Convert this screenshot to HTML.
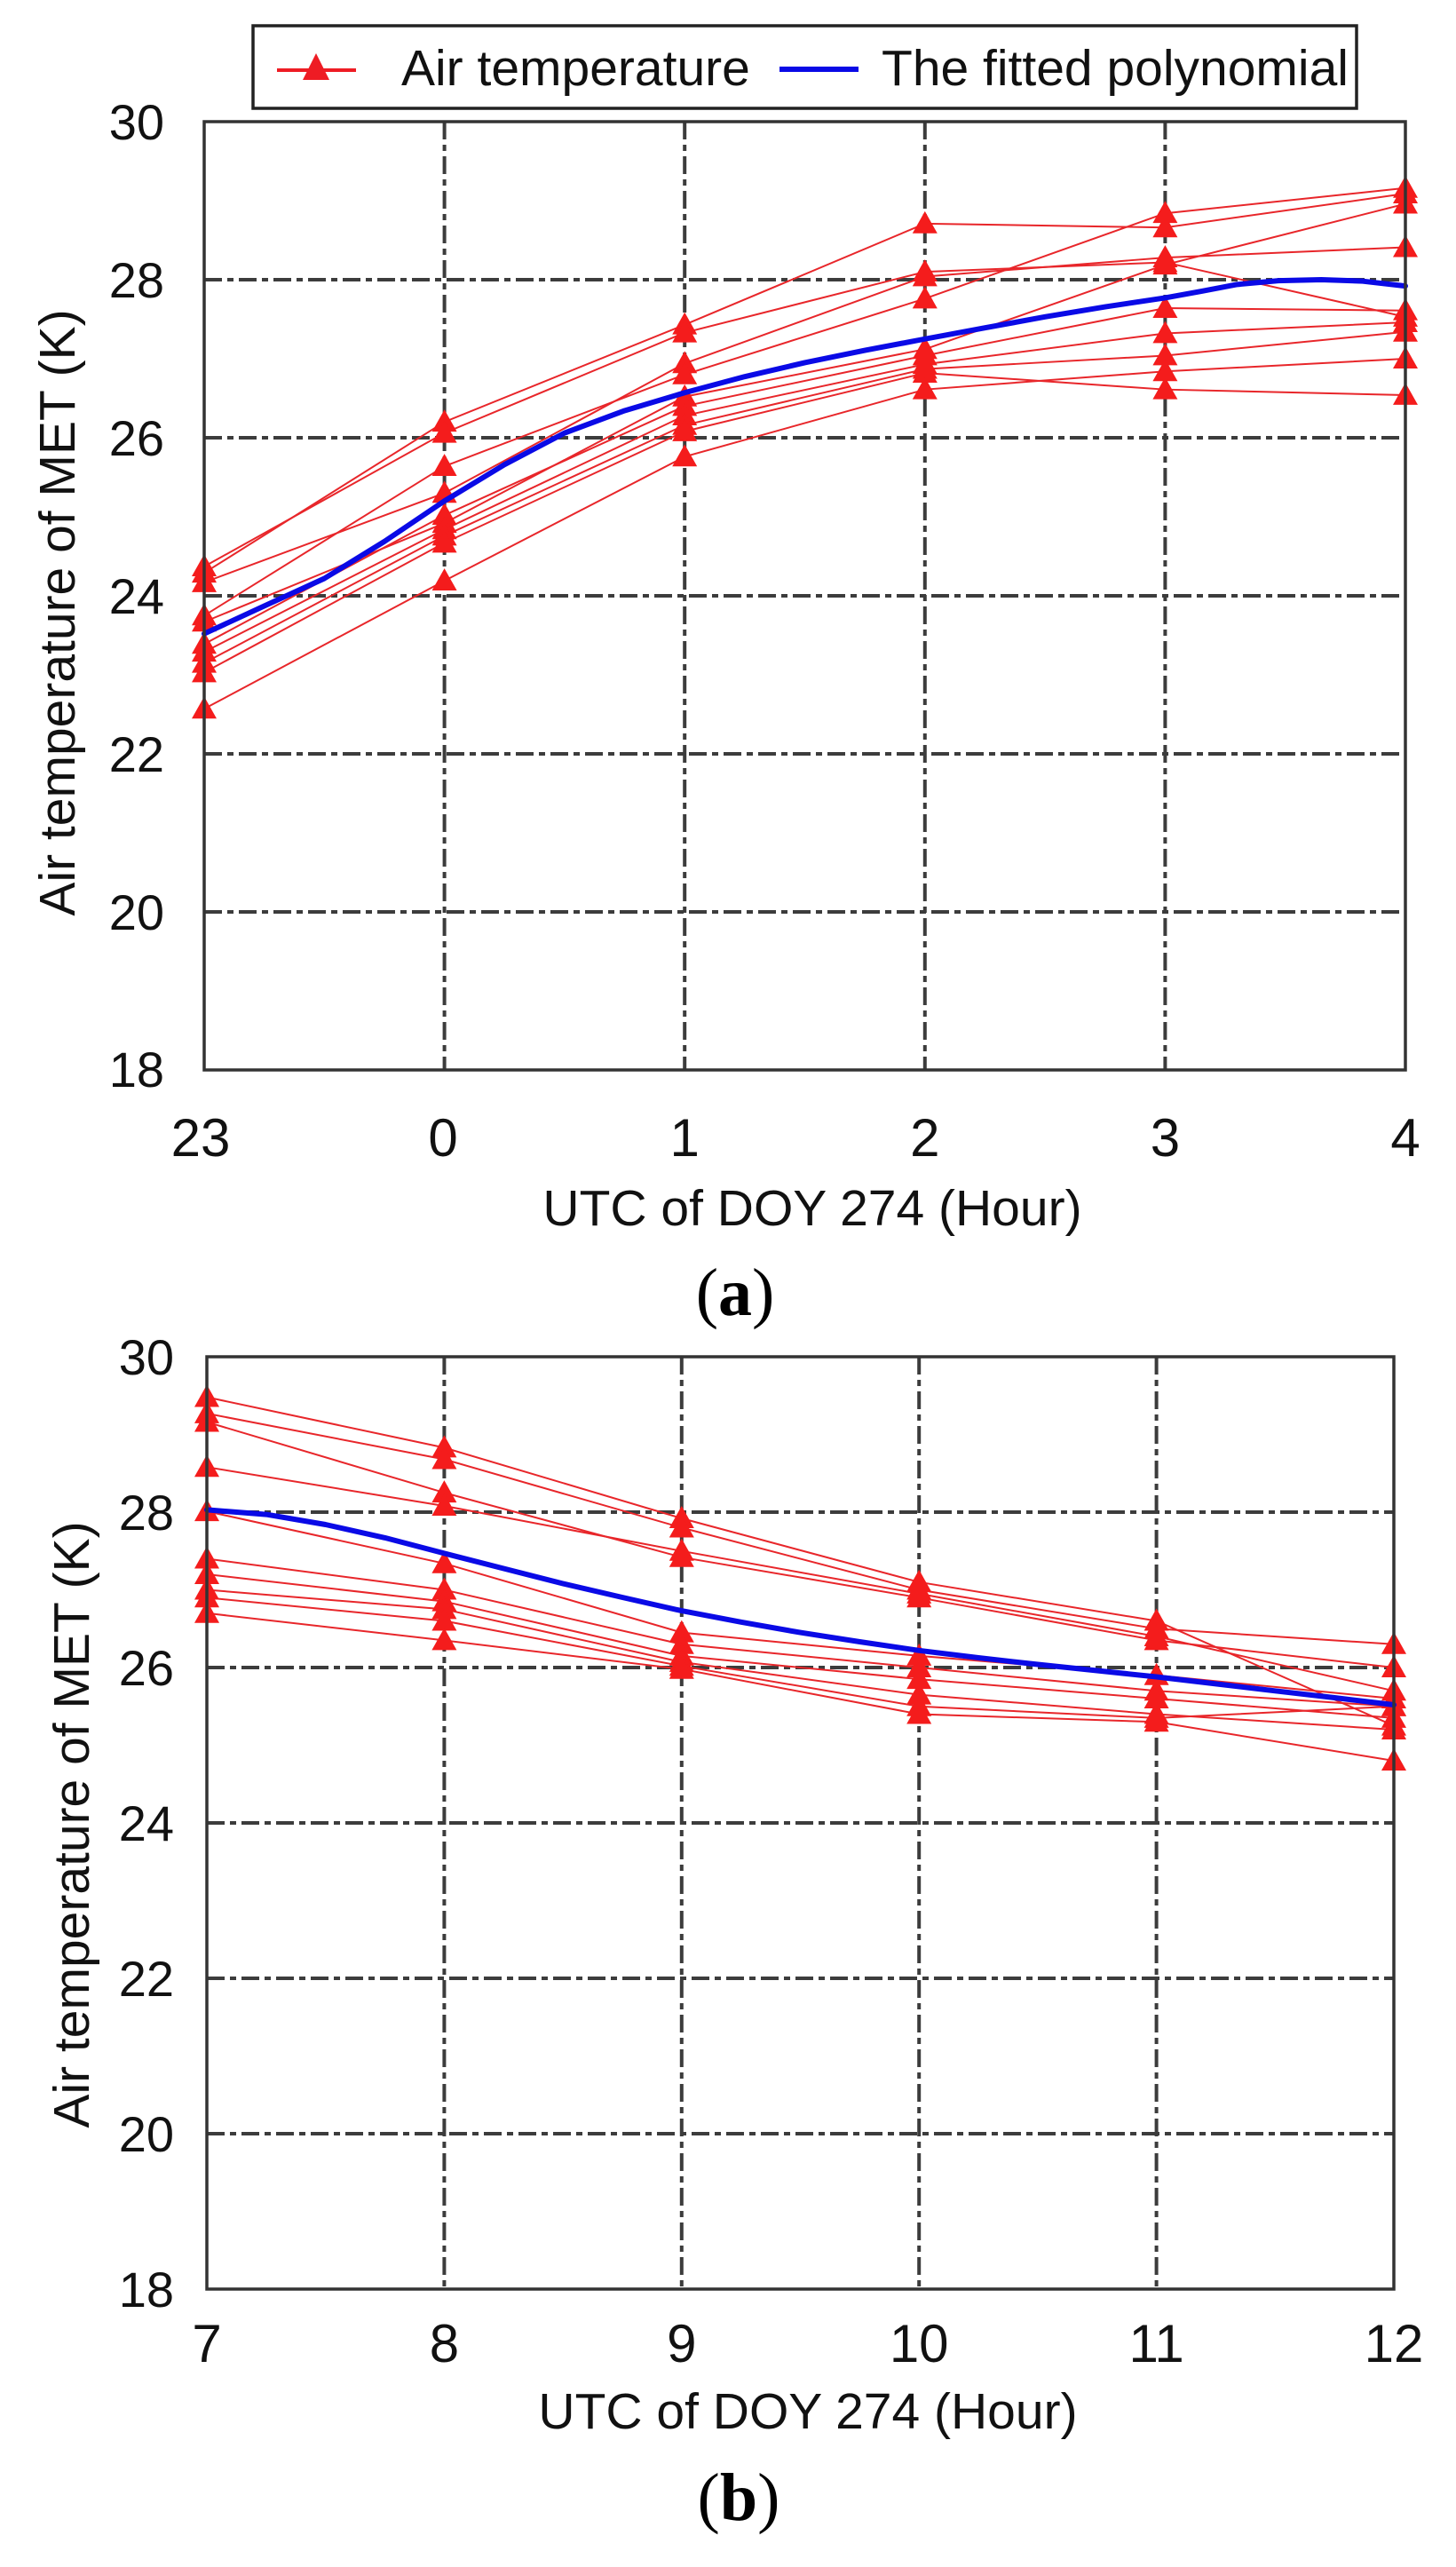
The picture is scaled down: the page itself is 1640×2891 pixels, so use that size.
<!DOCTYPE html>
<html>
<head>
<meta charset="utf-8">
<style>
  html,body{margin:0;padding:0;background:#fff;}
  svg{display:block;}
  text{font-family:"Liberation Sans", Arial, sans-serif; fill:#111;}
  .cap{font-family:"Liberation Serif", "Times New Roman", serif; fill:#000;}
</style>
</head>
<body>
<svg width="1640" height="2891" viewBox="0 0 1640 2891" xmlns="http://www.w3.org/2000/svg">
  <defs>
    <marker id="tri" markerWidth="32" markerHeight="30" refX="14" refY="14" markerUnits="userSpaceOnUse" overflow="visible">
      <path d="M14,0 L28,25 L0,25 Z" fill="#f41c1c"/>
    </marker>
  </defs>
  <rect x="0" y="0" width="1640" height="2891" fill="#fff"/>

  <!-- ================= PLOT A ================= -->
  <rect x="285" y="29" width="1243" height="93" fill="#fff" stroke="#222" stroke-width="3.5"/>
  <line x1="312" y1="79" x2="401" y2="79" stroke="#ee1c24" stroke-width="4"/>
  <path d="M356,60 L371,90 L341,90 Z" fill="#ee1c24"/>
  <text x="452" y="96" font-size="57">Air temperature</text>
  <line x1="878" y1="78" x2="967" y2="78" stroke="#0a0ae6" stroke-width="6"/>
  <text x="993" y="96" font-size="57">The fitted polynomial</text>

  <g stroke="#3c3c3c" stroke-width="4" stroke-dasharray="20 6 7 6" fill="none">
    <line x1="230" y1="315" x2="1583" y2="315"/>
    <line x1="230" y1="493" x2="1583" y2="493"/>
    <line x1="230" y1="671" x2="1583" y2="671"/>
    <line x1="230" y1="849" x2="1583" y2="849"/>
    <line x1="230" y1="1027" x2="1583" y2="1027"/>
    <line x1="500.6" y1="137" x2="500.6" y2="1205"/>
    <line x1="771.2" y1="137" x2="771.2" y2="1205"/>
    <line x1="1041.8" y1="137" x2="1041.8" y2="1205"/>
    <line x1="1312.4" y1="137" x2="1312.4" y2="1205"/>
  </g>

  <g transform="matrix(1 0 0 0.99534 0 0.638)">
  <g stroke="#e8262a" stroke-width="2" fill="none">
    <polyline points="230,647.6 500.6,476.8 771.2,366.8 1041.8,252.4 1312.4,256.8 1583,218.4"/>
    <polyline points="230,640.4 500.6,489.3 771.2,375.8 1041.8,306.9 1312.4,296.2 1583,357.9"/>
    <polyline points="230,658.3 500.6,557.3 771.2,410.6 1041.8,312.3 1312.4,290.8 1583,279.2"/>
    <polyline points="230,695.9 500.6,526.9 771.2,423.1 1041.8,337.3 1312.4,240.7 1583,212.1"/>
    <polyline points="230,703.0 500.6,591.3 771.2,448.2 1041.8,394.5 1312.4,298.9 1583,230.0"/>
    <polyline points="230,728.1 500.6,582.3 771.2,458.9 1041.8,401.7 1312.4,348.0 1583,350.7"/>
    <polyline points="230,737.0 500.6,598.4 771.2,469.6 1041.8,411.5 1312.4,376.6 1583,364.1"/>
    <polyline points="230,749.5 500.6,605.6 771.2,480.4 1041.8,416.9 1312.4,401.7 1583,374.9"/>
    <polyline points="230,760.3 500.6,613.6 771.2,487.5 1041.8,421.4 1312.4,440.1 1583,446.4"/>
    <polyline points="230,801.4 500.6,656.5 771.2,516.1 1041.8,440.1 1312.4,419.6 1583,405.3"/>
  </g>
  <g stroke="none" fill="none" marker-start="url(#tri)" marker-mid="url(#tri)" marker-end="url(#tri)">
    <polyline points="230,647.6 500.6,476.8 771.2,366.8 1041.8,252.4 1312.4,256.8 1583,218.4"/>
    <polyline points="230,640.4 500.6,489.3 771.2,375.8 1041.8,306.9 1312.4,296.2 1583,357.9"/>
    <polyline points="230,658.3 500.6,557.3 771.2,410.6 1041.8,312.3 1312.4,290.8 1583,279.2"/>
    <polyline points="230,695.9 500.6,526.9 771.2,423.1 1041.8,337.3 1312.4,240.7 1583,212.1"/>
    <polyline points="230,703.0 500.6,591.3 771.2,448.2 1041.8,394.5 1312.4,298.9 1583,230.0"/>
    <polyline points="230,728.1 500.6,582.3 771.2,458.9 1041.8,401.7 1312.4,348.0 1583,350.7"/>
    <polyline points="230,737.0 500.6,598.4 771.2,469.6 1041.8,411.5 1312.4,376.6 1583,364.1"/>
    <polyline points="230,749.5 500.6,605.6 771.2,480.4 1041.8,416.9 1312.4,401.7 1583,374.9"/>
    <polyline points="230,760.3 500.6,613.6 771.2,487.5 1041.8,421.4 1312.4,440.1 1583,446.4"/>
    <polyline points="230,801.4 500.6,656.5 771.2,516.1 1041.8,440.1 1312.4,419.6 1583,405.3"/>
  </g>
  <polyline points="230,716.4 297.7,685 365.3,653.9 433,612 500.6,566.2 568.3,525 635.9,489.3 703.6,464 771.2,443.7 838.9,425.5 906.5,409.7 974.2,395.8 1041.8,382.9 1109.5,370.3 1177.1,357.9 1244.8,346.5 1312.4,336.4 1353,329 1393.6,321.2 1440,317 1488.3,315.8 1535,317.5 1583,323.0"
    fill="none" stroke="#0a0ae6" stroke-width="6" stroke-linejoin="round" stroke-linecap="round"/>
  </g>

  <rect x="230" y="137" width="1353" height="1068" fill="none" stroke="#333" stroke-width="3.5"/>

  <g font-size="56" text-anchor="end">
    <text x="185" y="157">30</text>
    <text x="185" y="335">28</text>
    <text x="185" y="513">26</text>
    <text x="185" y="691">24</text>
    <text x="185" y="869">22</text>
    <text x="185" y="1047">20</text>
    <text x="185" y="1224">18</text>
  </g>
  <g font-size="60" text-anchor="middle">
    <text x="226" y="1302">23</text>
    <text x="499" y="1302">0</text>
    <text x="771.2" y="1302">1</text>
    <text x="1041.8" y="1302">2</text>
    <text x="1312.4" y="1302">3</text>
    <text x="1583" y="1302">4</text>
  </g>
  <text x="915" y="1380" font-size="57" text-anchor="middle">UTC of DOY 274 (Hour)</text>
  <text transform="translate(84,690) rotate(-90)" font-size="57" text-anchor="middle">Air temperature of MET (K)</text>
  <text class="cap" x="828" y="1481" font-size="76" text-anchor="middle">(<tspan font-weight="bold">a</tspan>)</text>

  <!-- ================= PLOT B ================= -->
  <g stroke="#3c3c3c" stroke-width="4" stroke-dasharray="20 6 7 6" fill="none">
    <line x1="233" y1="1703" x2="1570" y2="1703"/>
    <line x1="233" y1="1878" x2="1570" y2="1878"/>
    <line x1="233" y1="2053" x2="1570" y2="2053"/>
    <line x1="233" y1="2228" x2="1570" y2="2228"/>
    <line x1="233" y1="2403" x2="1570" y2="2403"/>
    <line x1="500.4" y1="1528" x2="500.4" y2="2578"/>
    <line x1="767.8" y1="1528" x2="767.8" y2="2578"/>
    <line x1="1035.2" y1="1528" x2="1035.2" y2="2578"/>
    <line x1="1302.6" y1="1528" x2="1302.6" y2="2578"/>
  </g>

  <g stroke="#e8262a" stroke-width="2" fill="none">
    <polyline points="233,1573.5 500.4,1630.4 767.8,1710 1035.2,1781.8 1302.6,1825.5 1570,1943.6"/>
    <polyline points="233,1591.9 500.4,1643.5 767.8,1720.5 1035.2,1790.5 1302.6,1834.3 1570,1851.8"/>
    <polyline points="233,1601.5 500.4,1681.1 767.8,1753.8 1035.2,1799.3 1302.6,1847.4 1570,1878"/>
    <polyline points="233,1652.3 500.4,1696 767.8,1746.8 1035.2,1794.9 1302.6,1843 1570,1904.3"/>
    <polyline points="233,1702.1 500.4,1760.8 767.8,1838.6 1035.2,1864.9 1302.6,1886.8 1570,1913"/>
    <polyline points="233,1755.5 500.4,1790.5 767.8,1851.8 1035.2,1878 1302.6,1904.3 1570,1921.8"/>
    <polyline points="233,1773 500.4,1803.6 767.8,1864.9 1035.2,1891.1 1302.6,1913 1570,1934.9"/>
    <polyline points="233,1790.5 500.4,1812.4 767.8,1871.9 1035.2,1908.6 1302.6,1930.5 1570,1948"/>
    <polyline points="233,1799.3 500.4,1825.5 767.8,1876.3 1035.2,1921.8 1302.6,1934.9 1570,1921.8"/>
    <polyline points="233,1816.8 500.4,1847.4 767.8,1879.8 1035.2,1930.5 1302.6,1939.3 1570,1983"/>
  </g>
  <g stroke="none" fill="none" marker-start="url(#tri)" marker-mid="url(#tri)" marker-end="url(#tri)">
    <polyline points="233,1573.5 500.4,1630.4 767.8,1710 1035.2,1781.8 1302.6,1825.5 1570,1943.6"/>
    <polyline points="233,1591.9 500.4,1643.5 767.8,1720.5 1035.2,1790.5 1302.6,1834.3 1570,1851.8"/>
    <polyline points="233,1601.5 500.4,1681.1 767.8,1753.8 1035.2,1799.3 1302.6,1847.4 1570,1878"/>
    <polyline points="233,1652.3 500.4,1696 767.8,1746.8 1035.2,1794.9 1302.6,1843 1570,1904.3"/>
    <polyline points="233,1702.1 500.4,1760.8 767.8,1838.6 1035.2,1864.9 1302.6,1886.8 1570,1913"/>
    <polyline points="233,1755.5 500.4,1790.5 767.8,1851.8 1035.2,1878 1302.6,1904.3 1570,1921.8"/>
    <polyline points="233,1773 500.4,1803.6 767.8,1864.9 1035.2,1891.1 1302.6,1913 1570,1934.9"/>
    <polyline points="233,1790.5 500.4,1812.4 767.8,1871.9 1035.2,1908.6 1302.6,1930.5 1570,1948"/>
    <polyline points="233,1799.3 500.4,1825.5 767.8,1876.3 1035.2,1921.8 1302.6,1934.9 1570,1921.8"/>
    <polyline points="233,1816.8 500.4,1847.4 767.8,1879.8 1035.2,1930.5 1302.6,1939.3 1570,1983"/>
  </g>
  <polyline points="233,1700.4 299.9,1705.6 366.7,1717 433.6,1731.9 500.4,1749.4 567.3,1766.5 634.1,1783.5 701,1799 767.8,1814.1 834.7,1826.8 901.5,1838.6 968.4,1849 1035.2,1858.8 1102,1867 1168.9,1874.5 1235.8,1881.5 1302.6,1888.5 1369.5,1896.4 1436.3,1904.3 1503.2,1912 1570,1920"
    fill="none" stroke="#0a0ae6" stroke-width="6" stroke-linejoin="round" stroke-linecap="round"/>

  <rect x="233" y="1528" width="1337" height="1050" fill="none" stroke="#333" stroke-width="3.5"/>

  <g font-size="56" text-anchor="end">
    <text x="196" y="1548">30</text>
    <text x="196" y="1723">28</text>
    <text x="196" y="1898">26</text>
    <text x="196" y="2073">24</text>
    <text x="196" y="2248">22</text>
    <text x="196" y="2423">20</text>
    <text x="196" y="2598">18</text>
  </g>
  <g font-size="60" text-anchor="middle">
    <text x="233" y="2660">7</text>
    <text x="500.4" y="2660">8</text>
    <text x="767.8" y="2660">9</text>
    <text x="1035.2" y="2660">10</text>
    <text x="1302.6" y="2660">11</text>
    <text x="1570" y="2660">12</text>
  </g>
  <text x="910" y="2735" font-size="57" text-anchor="middle">UTC of DOY 274 (Hour)</text>
  <text transform="translate(100,2055) rotate(-90)" font-size="57" text-anchor="middle">Air temperature of MET (K)</text>
  <text class="cap" x="832" y="2838" font-size="76" text-anchor="middle">(<tspan font-weight="bold">b</tspan>)</text>
</svg>
</body>
</html>
